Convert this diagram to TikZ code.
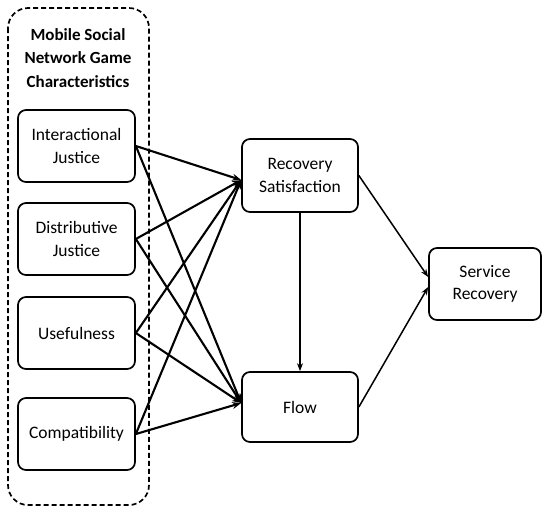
\documentclass[tikz,border=0pt]{standalone}
\usepackage{fontspec}
\setmainfont{Carlito}
\usetikzlibrary{arrows.meta}

\tikzset{
  box/.style={draw, line width=1.7pt, rounded corners=8pt, align=center,
    minimum width=117pt, minimum height=72pt, inner sep=2pt, font=\fontsize{17.5}{22.5}\selectfont},
  thick arrow/.style={-{Stealth[length=9pt,width=7pt]}, line width=2.1pt},
  thin arrow/.style={-{Stealth[length=8pt,width=6pt]}, line width=1.5pt}
}

\begin{document}
\begin{tikzpicture}[x=1pt,y=-1pt]
\useasboundingbox (0,0) rectangle (543,507);

% group
\draw [line width=1.7pt, dash pattern=on 5pt off 3pt, rounded corners=20pt] (8,8) rectangle (149,505);
\node [align=center, font=\bfseries\fontsize{17}{23.5}\selectfont] (title) at (78,58) {Mobile Social\\Network Game\\Characteristics};

% nodes
\node [box] (ij) at (76.5,146) {Interactional\\Justice};
\node [box] (dj) at (76.5,239) {Distributive\\Justice};
\node [box] (use) at (76.5,333) {Usefulness};
\node [box] (comp) at (76.5,434) {Compatibility};

\node [box, minimum width=116pt, minimum height=73pt] (rs) at (300,175.5) {Recovery\\Satisfaction};
\node [box, minimum width=116pt, minimum height=70pt] (flow) at (300,407) {Flow};
\node [box, minimum width=112pt] (sr) at (485,284) {Service\\Recovery};

% arrows
\foreach \src in {ij,dj,use,comp} {
  \draw [thick arrow] (\src.east) -- ([yshift=-4.5pt]rs.west);
  \draw [thick arrow] (\src.east) -- ([yshift=4pt]flow.west);
}
\draw [thin arrow] (rs.south) -- (flow.north);
\draw [thin arrow] (rs.east) -- ([yshift=7pt]sr.west);
\draw [thin arrow] (flow.east) -- ([yshift=-3pt]sr.west);

\end{tikzpicture}
\end{document}
